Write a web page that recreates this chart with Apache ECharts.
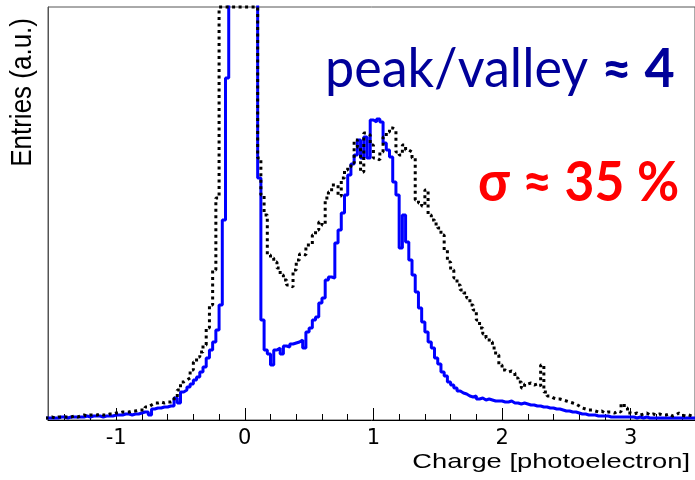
<!DOCTYPE html>
<html>
<head>
<meta charset="utf-8">
<script src="https://cdn.jsdelivr.net/npm/echarts@6/dist/echarts.min.js"></script>
<style>
  html, body { margin: 0; padding: 0; background: #fff; }
  #chart { width: 695px; height: 480px; }
</style>
</head>
<body>
<div id="chart"></div>
<script>
// Histogram binning (x in photoelectrons)
const firstBinEdge = -1.55;
const binWidth = 0.025;

// Blue solid histogram (bins of 0.025 from -1.55 to 3.5), a.u.; pedestal peak runs off the top of the frame
const blueCounts = [
  2,2,2,2,3,3,2,3,3,3,
  3,3,4,3,4,4,4,3,4,4,
  4,5,5,5,6,6,5,6,6,7,
  8,8,5,11,12,12,13,13,14,14,
  22,17,28,30,33,36,40,43,48,53,
  62,70,78,90,115,200,342,480,480,480,
  480,480,480,480,480,480,242,100,70,66,
  55,70,72,66,74,73,76,77,78,80,
  72,88,92,100,103,117,122,140,143,142,
  177,190,207,225,245,256,265,280,262,283,
  262,300,298,301,298,277,270,263,238,225,
  172,205,178,160,145,128,112,98,88,78,
  72,62,56,48,44,38,35,32,29,27,
  26,24,23,24,21,22,20,21,20,19,
  19,19,18,18,19,17,17,16,17,16,
  15,15,14,14,13,13,12,12,11,11,
  10,9,9,8,8,7,6,6,5,5,
  5,4,4,4,4,3,3,3,3,3,
  3,3,3,2,3,2,3,2,2,2,
  2,2,2,2,2,2,2,2,2,2,
  2,2
];

// Black dotted histogram (pedestal peak drawn clipped at the frame top, 413)
const blackCounts = [
  2,3,2,3,3,3,3,3,4,3,
  4,5,4,5,5,5,6,5,5,6,
  6,7,7,8,8,8,9,9,10,10,
  10,13,15,17,17,18,17,18,18,19,
  22,30,38,40,42,50,58,63,68,75,
  92,115,150,222,413,413,413,413,413,413,
  413,413,413,413,413,413,262,225,205,165,
  162,158,152,145,140,135,133,150,160,166,
  165,175,175,185,190,198,195,222,228,235,
  235,224,242,250,253,257,280,273,248,287,
  285,275,262,260,268,283,288,292,290,268,
  265,275,270,268,262,220,217,214,230,205,
  200,196,192,185,170,158,150,142,135,130,
  127,122,115,110,100,92,86,82,78,72,
  65,55,50,48,49,47,42,38,32,36,
  37,35,36,34,55,28,24,22,21,21,
  20,19,18,17,16,14,12,11,10,10,
  9,8,9,7,8,8,7,9,8,16,
  12,7,6,7,5,6,7,5,6,5,
  6,5,5,6,4,5,7,5,4,5,
  4,5
];

// Axis ranges and ticks
const xMin = -1.53, xMax = 3.5;
const yMin = 0, yMax = 413;
const majorTicks = [-1, 0, 1, 2, 3];
const minorTicks = [-1.4, -1.2, -0.8, -0.6, -0.4, -0.2, 0.2, 0.4, 0.6, 0.8,
  1.2, 1.4, 1.6, 1.8, 2.2, 2.4, 2.6, 2.8, 3.2, 3.4];

function toSteps(counts) {
  const pts = counts.map((v, i) => [+(firstBinEdge + i * binWidth).toFixed(4), v]);
  pts.push([+(firstBinEdge + counts.length * binWidth).toFixed(4), counts[counts.length - 1]]);
  return pts;
}

const chart = echarts.init(document.getElementById('chart'), null, { renderer: 'canvas' });
chart.setOption({
  animation: false,
  backgroundColor: '#fff',
  grid: { left: 48, top: 7, right: -5, bottom: 60, show: true, borderColor: '#555', borderWidth: 1, backgroundColor: 'transparent' },
  xAxis: [
    {
      type: 'value', min: xMin, max: xMax, position: 'bottom',
      axisLine: { show: true, onZero: false, lineStyle: { color: '#000', width: 1 } },
      axisTick: { show: true, inside: true, length: 12, customValues: majorTicks, lineStyle: { color: '#000', width: 1 } },
      axisLabel: { show: true, customValues: majorTicks, fontFamily: 'DejaVu Sans', fontSize: 21, color: '#000', margin: 8 },
      splitLine: { show: false }
    },
    {
      type: 'value', min: xMin, max: xMax, position: 'bottom',
      axisLine: { show: false, onZero: false },
      axisTick: { show: true, inside: true, length: 6, customValues: minorTicks, lineStyle: { color: '#000', width: 1 } },
      axisLabel: { show: false },
      splitLine: { show: false }
    }
  ],
  yAxis: {
    type: 'value', min: yMin, max: yMax,
    axisLine: { show: true, onZero: false, lineStyle: { color: '#555', width: 1 } },
    axisTick: { show: false },
    axisLabel: { show: false },
    splitLine: { show: false }
  },
  series: [
    {
      type: 'line', step: 'end', xAxisIndex: 0, data: toSteps(blueCounts),
      showSymbol: false, clip: true,
      lineStyle: { color: '#0000ff', width: 3 }
    },
    {
      type: 'line', step: 'end', xAxisIndex: 0, data: toSteps(blackCounts),
      showSymbol: false, clip: false,
      lineStyle: { color: '#000', width: 3, type: [3, 3.5], cap: 'butt' }
    }
  ],
  graphic: [
    {
      type: 'text', x: 23, y: 18, rotation: Math.PI / 2, scaleY: 1.1,
      style: { text: 'Entries (a.u.)', fontFamily: 'Liberation Sans', fontSize: 26, fill: '#000', align: 'right', verticalAlign: 'middle' }
    },
    {
      type: 'text', x: 690, y: 462.5, scaleX: 1.3,
      style: { text: 'Charge [photoelectron]', fontFamily: 'Liberation Sans', fontSize: 21, fill: '#000', align: 'right', verticalAlign: 'middle' }
    },
    {
      type: 'text', x: 325, y: 70, scaleX: 0.965,
      style: {
        text: '{n|peak/valley }{b|≈ 4}', align: 'left', verticalAlign: 'middle',
        rich: {
          n: { fontFamily: 'Lato', fontSize: 54, fontWeight: 'normal', fill: '#00009a', color: '#00009a' },
          b: { fontFamily: 'Lato', fontSize: 54, fontWeight: 'bold', fill: '#00009a', color: '#00009a' }
        }
      }
    },
    {
      type: 'text', x: 478, y: 183, scaleX: 0.92,
      style: {
        text: 'σ ≈ 35 %', align: 'left', verticalAlign: 'middle',
        fontFamily: 'Lato', fontSize: 56, fontWeight: 'bold', fill: '#ff0000'
      }
    }
  ]
});
</script>
</body>
</html>
